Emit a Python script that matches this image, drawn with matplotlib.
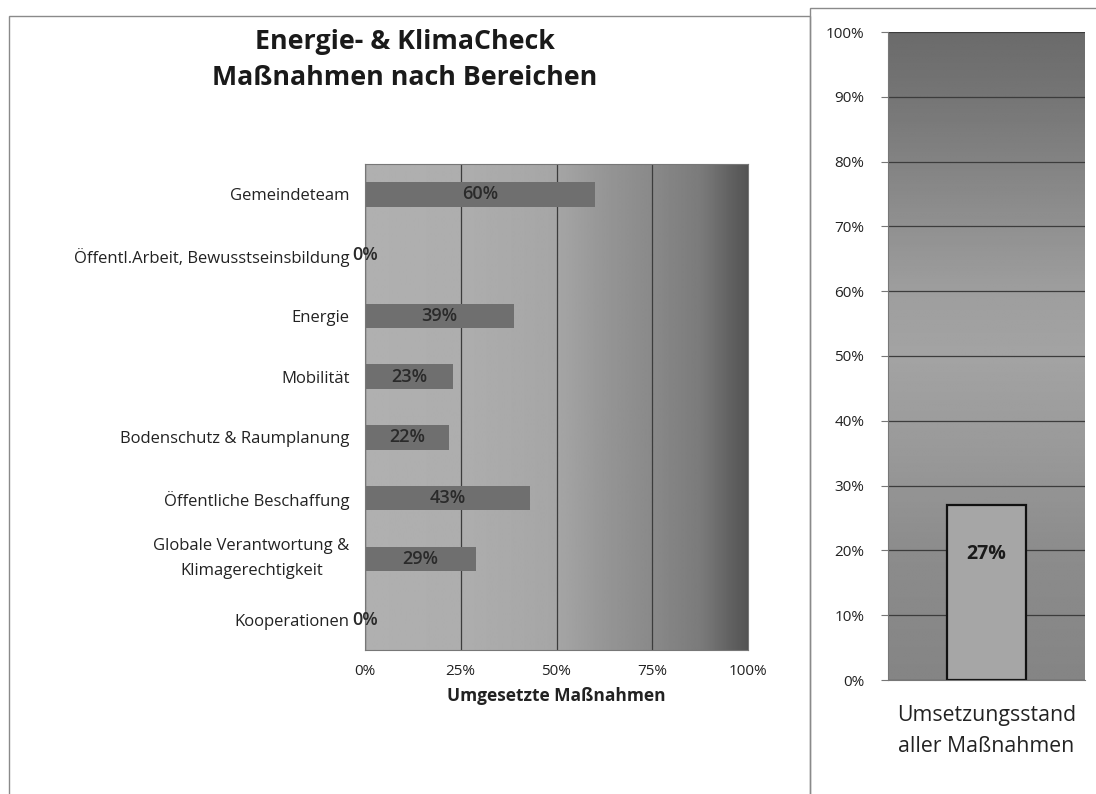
import matplotlib
matplotlib.use('Agg')
import matplotlib.pyplot as plt
from matplotlib.patches import Rectangle
import numpy as np

plt.rcParams['font.family'] = ['Open Sans', 'DejaVu Sans']

# daten
bereiche = ['Gemeindeteam', 'Öffentl.Arbeit, Bewusstseinsbildung', 'Energie', 'Mobilität',
            'Bodenschutz & Raumplanung', 'Öffentliche Beschaffung',
            'Globale Verantwortung &\nKlimagerechtigkeit', 'Kooperationen']
umgesetzt = [60, 0, 39, 23, 22, 43, 29, 0]
x_ticks = [0, 25, 50, 75, 100]
gesamt_label = 'Umsetzungsstand\naller Maßnahmen'
gesamt = [27]
y_ticks = [0, 10, 20, 30, 40, 50, 60, 70, 80, 90, 100]

fig = plt.figure(figsize=(10.96, 7.94), dpi=100)
fig.patch.set_facecolor('white')

# rahmen der beiden diagramme
fig.patches.append(Rectangle((9/1096, -0.01), (810-9)/1096, 1-16/794+0.01, transform=fig.transFigure,
                             fill=False, edgecolor='#8a8a8a', lw=1.0))
fig.patches.append(Rectangle((810/1096, -0.01), 0.3, 1-8/794+0.01, transform=fig.transFigure,
                             fill=False, edgecolor='#8a8a8a', lw=1.0))

# linkes diagramm
ax = fig.add_axes([365/1096, 1-650/794, (748-365)/1096, (650-164)/794])
grad_pos = [0.0, 0.25, 0.5, 0.62, 0.75, 0.88, 0.95, 1.0]
grad_val = [0.69, 0.68, 0.65, 0.59, 0.54, 0.48, 0.39, 0.33]
gx = np.linspace(0, 1, 300)
grad = np.interp(gx, grad_pos, grad_val)[None, :]
ax.imshow(grad, cmap='gray', vmin=0, vmax=1, extent=[0, 1, 0, 1], transform=ax.transAxes,
          aspect='auto', zorder=0, interpolation='bilinear')
pos = np.arange(len(bereiche))
ax.barh(pos, umgesetzt, height=0.4, color='#6f6f6f', zorder=2)
for p, v in zip(pos, umgesetzt):
    ax.text(v/2, p, str(v)+'%', ha='center', va='center', fontsize=13, fontweight='semibold',
            color='#2a2a2a', zorder=3)
ax.set_xlim(0, 100)
ax.set_ylim(len(bereiche)-0.5, -0.5)
ax.set_xticks(x_ticks)
ax.set_xticklabels([str(t)+'%' for t in x_ticks], fontsize=11, color='#222222')
ax.set_yticks(pos)
ax.set_yticklabels(bereiche, fontsize=12, color='#222222')
for lab in ax.get_yticklabels():
    lab.set_multialignment('center')
    if '\n' in lab.get_text():
        lab.set_linespacing(1.75)
        lab.set_va('center')
ax.tick_params(axis='y', length=0, pad=11)
ax.tick_params(axis='x', length=0, pad=10)
ax.xaxis.grid(True, color='#3c3c3c', lw=0.9)
ax.set_axisbelow(True)
for s in ax.spines.values():
    s.set_color('#777777')
    s.set_linewidth(0.8)
ax.set_xlabel('Umgesetzte Maßnahmen', fontsize=12.5, fontweight='bold', color='#222222', labelpad=6)

fig.text(405/1096, 1-42/794, 'Energie- & KlimaCheck', ha='center', va='center',
         fontsize=19.3, fontweight='bold', color='#1a1a1a')
fig.text(405/1096, 1-78/794, 'Maßnahmen nach Bereichen', ha='center', va='center',
         fontsize=19.3, fontweight='bold', color='#1a1a1a')

# rechtes diagramm
ax2 = fig.add_axes([888/1096, 1-680/794, (1085-888)/1096, (680-32)/794])
vy = np.linspace(0, 1, 300)
v_pos = [0.0, 0.2, 0.35, 0.5, 0.6, 0.75, 0.9, 1.0]
v_val = [0.52, 0.55, 0.60, 0.64, 0.62, 0.54, 0.46, 0.42]
vgrad = np.interp(vy, v_pos, v_val)[:, None]
ax2.imshow(vgrad, cmap='gray', vmin=0, vmax=1, extent=[0, 1, 0, 1], transform=ax2.transAxes,
           aspect='auto', origin='lower', zorder=0, interpolation='bilinear')
ax2.bar([0], gesamt, width=0.4, color='#a6a6a6', edgecolor='#111111', lw=1.6, zorder=2)
ax2.text(0, gesamt[0]*0.72, str(gesamt[0])+'%', ha='center', va='center', fontsize=14,
         fontweight='bold', color='#1a1a1a', zorder=3)
ax2.set_xlim(-0.5, 0.5)
ax2.set_ylim(0, 100)
ax2.set_yticks(y_ticks)
ax2.set_yticklabels([str(t)+'%' for t in y_ticks], fontsize=11, color='#222222')
ax2.set_xticks([0])
ax2.set_xticklabels([gesamt_label], fontsize=15.3, color='#222222', linespacing=1.65)
ax2.tick_params(axis='y', length=5, color='#777777', pad=12)
ax2.tick_params(axis='x', length=0, pad=18)
ax2.yaxis.grid(True, color='#3c3c3c', lw=0.9)
ax2.set_axisbelow(True)
for s in ['top', 'right']:
    ax2.spines[s].set_visible(False)
ax2.spines['left'].set_color('#777777')
ax2.spines['bottom'].set_color('#777777')

fig.savefig('out.png', dpi=100)
